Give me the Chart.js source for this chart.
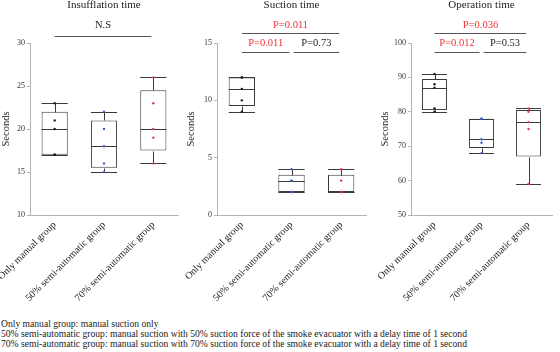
<!DOCTYPE html>
<html>
<head>
<meta charset="utf-8">
<script src="https://cdn.jsdelivr.net/npm/chart.js@4.4.0/dist/chart.umd.min.js"></script>
<style>
body { margin: 0; background: #fff; width: 560px; height: 352px; position: relative; overflow: hidden; }
canvas { position: absolute; top: 0; }
#note { position: absolute; left: 1px; top: 319px; font: 9.6px "Liberation Serif", "Times New Roman", serif; line-height: 10px; color: #222; white-space: nowrap; }
</style>
</head>
<body>
<canvas id="c1" width="185" height="305" style="left:0"></canvas>
<canvas id="c2" width="185" height="305" style="left:185px"></canvas>
<canvas id="c3" width="190" height="305" style="left:370px"></canvas>
<div id="note">
Only manual group: manual suction only<br>
50% semi-automatic group: manual suction with 50% suction force of the smoke evacuator with a delay time of 1 second<br>
70% semi-automatic group: manual suction with 70% suction force of the smoke evacuator with a delay time of 1 second
</div>
<script>
var groups = ["Only manual group", "50% semi-automatic group", "70% semi-automatic group"];
var dotColors = ["#1a1a1a", "#3a5fcd", "#e0384a"];

// Insufflation time
var insMin = [17, 15, 16];
var insQ1 = [17, 15.5, 17.5];
var insMed = [20, 18, 20];
var insQ3 = [22, 21, 24.5];
var insMax = [23, 22, 26];
var insPoints = [[17, 17, 20, 21, 23], [15, 16, 18, 20, 22], [16, 19, 20, 23, 26]];
var insAxis = [10, 30, 5];
var insNotes = [{ text: "N.S", color: "#222", row: 0, from: 0, to: 2 }];

// Suction time
var sucMin = [9, 2, 2];
var sucQ1 = [9.5, 2, 2];
var sucMed = [11, 3, 2];
var sucQ3 = [12, 3.5, 3.5];
var sucMax = [12, 4, 4];
var sucPoints = [[9, 10, 11, 12, 12], [2, 2, 3, 3, 4], [2, 2, 2, 3, 4]];
var sucAxis = [0, 15, 5];
var sucNotes = [
  { text: "P=0.011", color: "#f03030", row: 0, from: 0, to: 2 },
  { text: "P=0.011", color: "#f03030", row: 1, from: 0, to: 1 },
  { text: "P=0.73", color: "#222", row: 1, from: 1, to: 2 }
];

// Operation time
var opMin = [80, 68, 59];
var opQ1 = [80.5, 69.5, 67];
var opMed = [87, 72, 77];
var opQ3 = [89.5, 78, 80.5];
var opMax = [91, 78, 81];
var opPoints = [[80, 81, 87, 88, 91], [68, 71, 72, 78, 78], [59, 75, 77, 80, 81]];
var opAxis = [50, 100, 10];
var opNotes = [
  { text: "P=0.036", color: "#f03030", row: 0, from: 0, to: 2 },
  { text: "P=0.012", color: "#f03030", row: 1, from: 0, to: 1 },
  { text: "P=0.53", color: "#222", row: 1, from: 1, to: 2 }
];

var serif = '"Liberation Serif", "Times New Roman", serif';
var axisGray = '#b4b4b4';
var boxLine = '#3a3a3a';

function makeChart(id, title, mins, q1s, meds, q3s, maxs, pts, axis, notes, pad, yWidth, lineDrop) {
  var boxes = q1s.map(function (q, i) { return [q, q3s[i]]; });
  var dots = [], dotCol = [];
  pts.forEach(function (vals, g) {
    vals.forEach(function (v) {
      dots.push({ x: groups[g], y: v });
      dotCol.push(dotColors[g]);
    });
  });

  // whiskers, caps and median drawn over the floating bars
  var whiskers = {
    id: 'whiskers',
    afterDatasetDraw: function (chart, args) {
      if (args.index !== 0) return;
      var ctx = chart.ctx, y = chart.scales.y;
      ctx.save();
      ctx.strokeStyle = boxLine;
      ctx.lineWidth = 1;
      args.meta.data.forEach(function (bar, i) {
        var x = Math.round(bar.x) + 0.5, hw = bar.width / 2;
        var py = function (v) { return Math.round(y.getPixelForValue(v)) + 0.5; };
        ctx.beginPath();
        ctx.moveTo(x, py(q3s[i])); ctx.lineTo(x, py(maxs[i]));
        ctx.moveTo(x, py(q1s[i])); ctx.lineTo(x, py(mins[i]));
        ctx.moveTo(bar.x - hw, py(maxs[i])); ctx.lineTo(bar.x + hw, py(maxs[i]));
        ctx.moveTo(bar.x - hw, py(mins[i])); ctx.lineTo(bar.x + hw, py(mins[i]));
        ctx.moveTo(bar.x - hw, py(meds[i])); ctx.lineTo(bar.x + hw, py(meds[i]));
        ctx.stroke();
      });
      ctx.restore();
    }
  };

  var labels = {
    id: 'labels',
    afterDraw: function (chart) {
      var ctx = chart.ctx, a = chart.chartArea, xs = chart.scales.x;
      ctx.save();
      ctx.textAlign = 'center';
      ctx.textBaseline = 'middle';
      ctx.font = '11px ' + serif;
      ctx.fillStyle = '#222';
      ctx.fillText(title, (a.left + a.right) / 2, 5);
      ctx.font = '10.5px ' + serif;
      ctx.strokeStyle = '#555';
      ctx.lineWidth = 1;
      notes.forEach(function (n) {
        var x1 = xs.getPixelForValue(n.from) + (n.from > 0 ? 2 : 0);
        var x2 = xs.getPixelForValue(n.to) - 2;
        var ty = n.row === 0 ? a.top - 18 : a.top;
        var ly = Math.round(n.row === 0 ? a.top - lineDrop : a.top + 9) + 0.5;
        ctx.fillStyle = n.color;
        ctx.fillText(n.text, (x1 + x2) / 2, ty);
        ctx.beginPath();
        ctx.moveTo(x1, ly); ctx.lineTo(x2, ly);
        ctx.stroke();
      });
      ctx.restore();
    }
  };

  return new Chart(document.getElementById(id), {
    type: 'bar',
    data: {
      labels: groups,
      datasets: [{
        data: boxes,
        order: 1,
        backgroundColor: '#ffffff',
        borderColor: boxLine,
        borderWidth: 1,
        borderSkipped: false,
        barPercentage: 0.53,
        categoryPercentage: 1
      }, {
        type: 'line',
        data: dots,
        order: 0,
        showLine: false,
        pointRadius: 1.2,
        pointBorderWidth: 0,
        pointBackgroundColor: dotCol
      }]
    },
    options: {
      responsive: false,
      animation: false,
      devicePixelRatio: 1,
      layout: { padding: pad },
      plugins: { legend: { display: false }, tooltip: { enabled: false } },
      scales: {
        x: {
          offset: true,
          grid: { display: true, drawOnChartArea: false, drawTicks: false, color: axisGray },
          border: { display: true, color: axisGray, width: 1 },
          ticks: {
            autoSkip: false, minRotation: 45, maxRotation: 45, padding: 4,
            color: '#222', font: { family: serif, size: 10 }
          },
          afterFit: function (s) { s.height = 90; s.paddingLeft = 0; s.paddingRight = 0; }
        },
        y: {
          min: axis[0], max: axis[1],
          grid: { display: true, drawOnChartArea: false, drawTicks: true, tickLength: 3, color: axisGray },
          border: { display: true, color: axisGray, width: 1 },
          ticks: { stepSize: axis[2], padding: 2, color: '#333', font: { family: serif, size: 8 } },
          title: { display: true, text: 'Seconds', padding: 0, color: '#222', font: { family: serif, size: 10.5 } },
          afterFit: function (s) { s.width = yWidth; }
        }
      }
    },
    plugins: [whiskers, labels]
  });
}

makeChart('c1', 'Insufflation time', insMin, insQ1, insMed, insQ3, insMax, insPoints, insAxis, insNotes,
  { top: 43, right: 7, left: 0, bottom: 0 }, 30, 7);
makeChart('c2', 'Suction time', sucMin, sucQ1, sucMed, sucQ3, sucMax, sucPoints, sucAxis, sucNotes,
  { top: 43, right: 3, left: 0, bottom: 0 }, 32, 10);
makeChart('c3', 'Operation time', opMin, opQ1, opMed, opQ3, opMax, opPoints, opAxis, opNotes,
  { top: 43, right: 8, left: 9, bottom: 0 }, 32, 10);
</script>
</body>
</html>
